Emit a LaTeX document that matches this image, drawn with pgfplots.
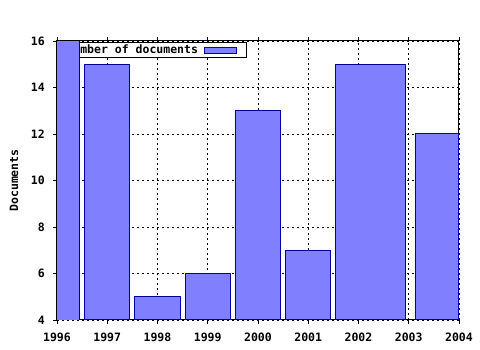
\documentclass[border=0pt]{standalone}
\usepackage{fontspec}
\setmainfont{DejaVu Sans Mono}
\usepackage{pgfplots}
\pgfplotsset{compat=1.18}
\definecolor{barfill}{RGB}{128,128,255}
\definecolor{barline}{RGB}{0,0,160}
\newcommand{\gfont}{\fontsize{11.5}{13}\selectfont\bfseries}
\pgfplotsset{
  layers/gnu/.define layer set={
    axis background, axis grid, pre main, main, axis descriptions,
    bar top, axis ticks, axis lines, axis tick labels, axis foreground
  }{},
}
\begin{document}
\begin{tikzpicture}
\begin{axis}[
  at={(0pt,0pt)}, anchor=south west,
  scale only axis, width=402pt, height=279pt,
  set layers=gnu,
  xmin=1996, xmax=2004, ymin=4, ymax=16,
  xtick={1996,1997,...,2004}, ytick={4,6,...,16},
  minor x tick num=3,
  xtick pos=both, ytick pos=left,
  tick align=outside,
  major tick length=4pt, minor tick length=3pt,
  every tick/.style={black, line width=0.8pt},
  axis line style={black, line width=1pt},
  grid=major,
  major grid style={black, line width=0.8pt, dash pattern=on 2pt off 3pt},
  /pgf/number format/assume math mode=true,
  /pgf/number format/1000 sep={},
  tick label style={font=\gfont},
  xticklabel style={anchor=north, inner sep=0pt, yshift=-9pt},
  yticklabel style={anchor=east, inner sep=0pt, xshift=-8pt},
  ylabel={Documents},
  ylabel style={font=\gfont, at={(axis description cs:-0.107,0.5)}, anchor=center},
  legend plot pos=right,
  legend image code/.code={\draw[#1, line width=1pt] (0pt,-3pt) rectangle (32pt,3pt); \path (38pt,0pt);},
  legend style={at={(0.4726,0.9964)}, anchor=north east, draw=black, line width=1pt,
    fill=white, inner xsep=3pt, inner ysep=1pt, font=\gfont, column sep=5pt,
    nodes={inner sep=1.5pt}},
  bar/.style={fill=barfill, draw=barline, line width=1pt},
]
\addplot[bar] coordinates {(1996.55,4) (1996.55,15) (1997.45,15) (1997.45,4)} --cycle;
\addlegendentry{Number of documents}
\addplot[bar, forget plot] coordinates {(1997.55,4) (1997.55,5) (1998.45,5) (1998.45,4)} --cycle;
\addplot[bar, forget plot] coordinates {(1998.55,4) (1998.55,6) (1999.45,6) (1999.45,4)} --cycle;
\addplot[bar, forget plot] coordinates {(1999.55,4) (1999.55,13) (2000.45,13) (2000.45,4)} --cycle;
\addplot[bar, forget plot] coordinates {(2000.55,4) (2000.55,7) (2001.45,7) (2001.45,4)} --cycle;
\addplot[bar, forget plot] coordinates {(2001.55,4) (2001.55,15) (2002.93,15) (2002.93,4)} --cycle;
\addplot[bar, forget plot] coordinates {(2003.13,4) (2003.13,12) (2004,12) (2004,4)} --cycle;
\addplot[fill=barfill, draw=none, forget plot, on layer=bar top] coordinates {(1996,4) (1996,16) (1996.45,16) (1996.45,4)} --cycle;
\addplot[barline, line width=1pt, forget plot, on layer=bar top] coordinates {(1996.45,4) (1996.45,16)};
\end{axis}
\pgfresetboundingbox
\useasboundingbox (-57pt,-30pt) rectangle (423pt,320pt);
\end{tikzpicture}
\end{document}
